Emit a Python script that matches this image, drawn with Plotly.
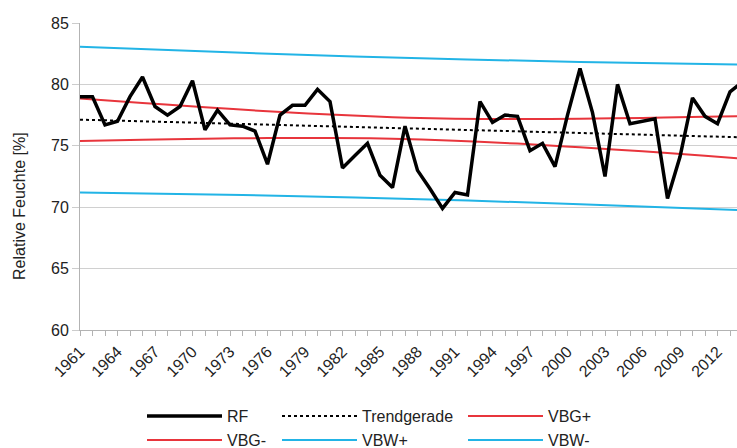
import plotly.graph_objects as go

# ---- data ----
years = list(range(1961, 2015))
rf = [79.0, 79.0, 76.7, 77.0, 79.0, 80.6, 78.2, 77.5, 78.2, 80.3,
      76.3, 77.9, 76.7, 76.6, 76.2, 73.5, 77.5, 78.3, 78.3, 79.6,
      78.6, 73.2, 74.2, 75.2, 72.6, 71.6, 76.6, 73.0, 71.5, 69.9,
      71.2, 71.0, 78.6, 76.9, 77.5, 77.4, 74.6, 75.2, 73.3, 77.5,
      81.3, 77.7, 72.5, 80.0, 76.8, 77.0, 77.2, 70.7, 74.1, 78.9,
      77.4, 76.8, 79.4, 80.2]

trend_years = [1961, 2014]
trend_vals = [77.13, 75.69]

band_years = [1961, 1966, 1971, 1976, 1981, 1986, 1991, 1996, 2001, 2006, 2011, 2014]
vbg_plus = [78.86, 78.49, 78.14, 77.81, 77.54, 77.33, 77.21, 77.18, 77.20, 77.27, 77.36, 77.42]
vbg_minus = [75.40, 75.50, 75.58, 75.63, 75.64, 75.57, 75.41, 75.18, 74.88, 74.55, 74.18, 73.96]

pred_years = [1961, 1974, 1987.5, 2001, 2014]
vbw_plus = [83.06, 82.57, 82.15, 81.83, 81.62]
vbw_minus = [71.20, 70.99, 70.67, 70.25, 69.76]

tick_years = list(range(1961, 2013, 3))
y_ticks = [60, 65, 70, 75, 80, 85]
y_title = "Relative Feuchte [%]"

RED = "#e8353c"
CYAN = "#22b4e6"
FONT = "Liberation Sans, Arial, sans-serif"

fig = go.Figure()
fig.add_trace(go.Scatter(x=pred_years, y=vbw_plus, mode="lines", name="VBW+",
                         line=dict(color=CYAN, width=2, shape="spline"), legend="legend5"))
fig.add_trace(go.Scatter(x=pred_years, y=vbw_minus, mode="lines", name="VBW-",
                         line=dict(color=CYAN, width=2, shape="spline"), legend="legend6"))
fig.add_trace(go.Scatter(x=band_years, y=vbg_plus, mode="lines", name="VBG+",
                         line=dict(color=RED, width=2, shape="spline"), legend="legend3"))
fig.add_trace(go.Scatter(x=band_years, y=vbg_minus, mode="lines", name="VBG-",
                         line=dict(color=RED, width=2, shape="spline"), legend="legend4"))
fig.add_trace(go.Scatter(x=trend_years, y=trend_vals, mode="lines", name="Trendgerade",
                         line=dict(color="black", width=2, dash="dot"), legend="legend2"))
fig.add_trace(go.Scatter(x=years, y=rf, mode="lines", name="RF",
                         line=dict(color="black", width=3.5), legend="legend"))

W, H = 737, 448
leg_common = dict(orientation="h", xref="container", yref="container",
                  xanchor="left", yanchor="top", itemwidth=75,
                  font=dict(family=FONT, size=16, color="#222"),
                  bgcolor="rgba(0,0,0,0)")

col_x = [142, 277, 463]
row_y = [399, 423]

def leg(ix, iy):
    return dict(x=col_x[ix] / W, y=1 - row_y[iy] / H, **leg_common)

fig.update_layout(
    width=W, height=H,
    margin=dict(l=80, r=0, t=23, b=118),
    paper_bgcolor="white", plot_bgcolor="white",
    showlegend=True,
    legend=leg(0, 0), legend2=leg(1, 0), legend3=leg(2, 0),
    legend4=leg(0, 1), legend5=leg(1, 1), legend6=leg(2, 1),
    xaxis=dict(range=[1961, 1961 + 657 / 12.5], tickmode="array", tickvals=tick_years,
               ticktext=[str(t) for t in tick_years], tickangle=-45,
               ticks="outside", ticklen=5, tickcolor="#b3b3b3",
               showgrid=False, showline=True, linecolor="#b3b3b3", linewidth=1,
               tickfont=dict(family=FONT, size=16, color="#222"),
               minor=dict(ticks="outside", ticklen=5, tickcolor="#b3b3b3", dtick=1, tick0=1961),
               zeroline=False, automargin=False),
    yaxis=dict(range=[60, 85], tickvals=y_ticks, ticks="outside", ticklen=7,
               tickcolor="#cccccc", showgrid=True, gridcolor="#d0d0d0", gridwidth=1,
               showline=True, linecolor="#b3b3b3", linewidth=1, zeroline=False,
               tickfont=dict(family=FONT, size=16, color="#222"), automargin=False),
    annotations=[dict(text=y_title, xref="paper", yref="paper", x=0, y=0.404,
                      xshift=-60, xanchor="center", yanchor="middle", textangle=-90,
                      showarrow=False, font=dict(family=FONT, size=16, color="#222"))],
)

fig.write_html("out.html")
